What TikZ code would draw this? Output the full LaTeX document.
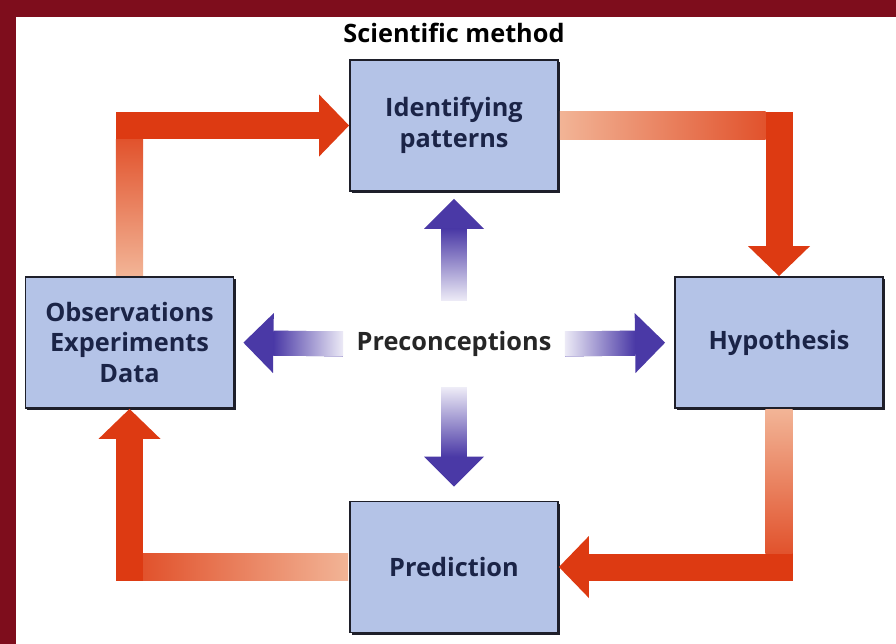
\documentclass[tikz,border=0pt]{standalone}
\usepackage{fontspec}
\setmainfont{Open Sans}
\usetikzlibrary{arrows.meta,calc,shadows}

\definecolor{framered}{HTML}{7E0D1C}
\definecolor{boxblue}{HTML}{B4C3E7}
\definecolor{boxline}{HTML}{1E1F2A}
\definecolor{boxtext}{HTML}{1B2447}
\definecolor{cyclered}{HTML}{DD3A12}
\definecolor{cyclepale}{HTML}{F2B496}
\definecolor{ideaviolet}{HTML}{4A39A6}
\definecolor{ideapale}{HTML}{ECEAF6}

\tikzset{
    stage/.style={rectangle, draw=boxline, line width=1.3pt, fill=boxblue,
        minimum width=52mm, minimum height=32.75mm, align=center,
        font=\bfseries\fontsize{18}{22}\selectfont, text=boxtext,
        drop shadow={shadow xshift=0.5mm, shadow yshift=-0.5mm, fill=boxline, opacity=1}},
    cyclearrow/.style={draw=cyclered, line width=6.75mm, shorten <=0.7pt,
        -{Triangle[width=15.5mm,length=7.5mm,line width=0pt]}},
    ideaarrow/.style={draw=ideaviolet, line width=6.25mm,
        -{Triangle[width=15mm,length=7.5mm,line width=0pt]}}
}

\begin{document}
\begin{tikzpicture}[x=0.25mm, y=-0.25mm]
    \fill[framered] (0,0) rectangle (896,644);
    \fill[white] (16,17) rectangle (896,644);
    \node [font=\bfseries\fontsize{18}{21}\selectfont] (title) at (454,33) {Scientific method};
    \node [stage] (pat) at (454,125.5) {Identifying\\patterns};
    \node [stage] (obs) at (129.5,342.5) {Observations\\Experiments\\Data};
    \node [stage] (hyp) at (779,342.5) {Hypothesis};
    \node [stage] (pred) at (454,567) {Prediction};
    \node [inner sep=0pt, minimum width=55.5mm, minimum height=22mm,
        font=\bfseries\fontsize{18}{21}\selectfont, text=black!85] (pre) at (454,344) {Preconceptions};

    % the cycle
    \draw [cyclearrow] (obs.north) |- (pat.west);
    \draw [cyclearrow] (pat.east) -| (hyp.north);
    \draw [cyclearrow] (hyp.south) |- (pred.east);
    \draw [cyclearrow] (pred.west) -| (obs.south);
    \shade [bottom color=cyclepale, top color=cyclered!80!cyclepale]
        ($(obs.north)+(-13.7,-1)$) rectangle ($(obs.north |- pat.west)+(13.7,13.5)$);
    \shade [left color=cyclepale, right color=cyclered!80!cyclepale]
        ($(pat.east)+(1,-13.7)$) rectangle ($(pat.east -| hyp.north)+(-13.5,13.7)$);
    \shade [top color=cyclepale, bottom color=cyclered!80!cyclepale]
        ($(hyp.south)+(-13.7,1)$) rectangle ($(hyp.south |- pred.east)+(13.7,-13.5)$);
    \shade [right color=cyclepale, left color=cyclered!80!cyclepale]
        ($(pred.west)+(-1,-13.7)$) rectangle ($(pred.west -| obs.south)+(13.5,13.7)$);

    % preconceptions
    \draw [ideaarrow, shorten >=1.75mm] (pre.north) -- (pat.south);
    \draw [ideaarrow, shorten >=3.5mm] (pre.south) -- (pred.north);
    \draw [ideaarrow, shorten >=2.25mm] (pre.west) -- (obs.east);
    \draw [ideaarrow, shorten >=2.25mm] (pre.east) -- (hyp.west);
    \shade [bottom color=ideapale, top color=ideaviolet]
        ($(pre.north)+(-12.8,0.3)$) rectangle ($(pat.south)+(12.8,37)$);
    \shade [top color=ideapale, bottom color=ideaviolet]
        ($(pre.south)+(-12.8,-0.3)$) rectangle ($(pred.north)+(12.8,-44)$);
    \shade [right color=ideapale, left color=ideaviolet]
        ($(pre.west)+(0.3,-12.8)$) rectangle ($(obs.east)+(39,12.8)$);
    \shade [left color=ideapale, right color=ideaviolet]
        ($(pre.east)+(-0.3,-12.8)$) rectangle ($(hyp.west)+(-39,12.8)$);
\end{tikzpicture}
\end{document}
